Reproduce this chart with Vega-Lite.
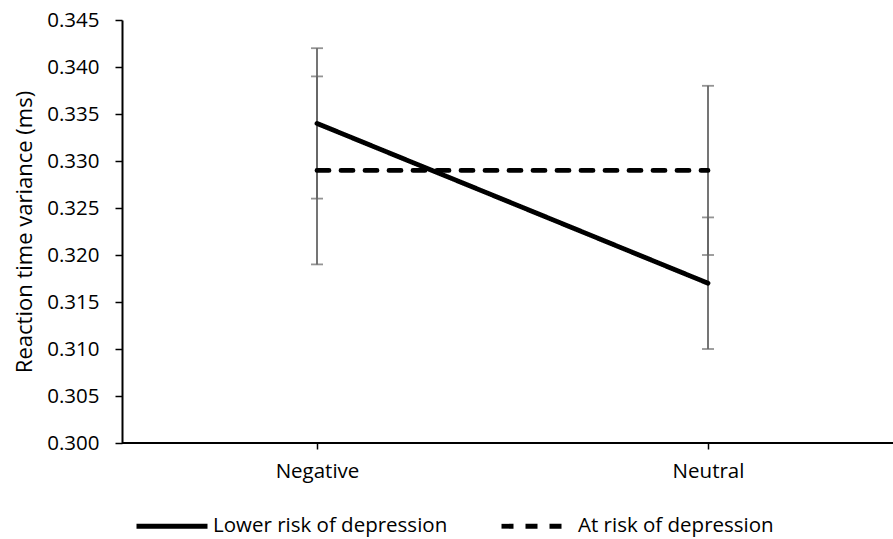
{
  "$schema": "https://vega.github.io/schema/vega-lite/v6.json",
  "width": 771,
  "height": 423,
  "autosize": {"type": "none"},
  "padding": {"left": 122, "top": 20, "right": 0, "bottom": 96},
  "background": "white",
  "config": {
    "view": {"stroke": null},
    "font": "Open Sans"
  },
  "data": {
    "values": [
      {"condition": "Negative", "group": "Lower risk of depression", "mean": 0.334, "lo": 0.326, "hi": 0.342},
      {"condition": "Negative", "group": "At risk of depression", "mean": 0.329, "lo": 0.319, "hi": 0.339},
      {"condition": "Neutral", "group": "Lower risk of depression", "mean": 0.317, "lo": 0.310, "hi": 0.324},
      {"condition": "Neutral", "group": "At risk of depression", "mean": 0.329, "lo": 0.320, "hi": 0.338}
    ]
  },
  "layer": [
    {
      "mark": {"type": "rule", "color": "black", "strokeWidth": 2},
      "encoding": {
        "y": {
          "datum": 0.3,
          "type": "quantitative",
          "scale": {"domain": [0.3, 0.345], "nice": false, "zero": false},
          "axis": {
            "values": [0.3, 0.305, 0.31, 0.315, 0.32, 0.325, 0.33, 0.335, 0.34, 0.345],
            "format": ".3f",
            "grid": false,
            "domainColor": "black", "domainWidth": 2,
            "tickColor": "black", "tickWidth": 1.5, "tickSize": 7,
            "labelFontSize": 20.5, "labelColor": "black", "labelPadding": 16,
            "title": "Reaction time variance (ms)",
            "titleFontSize": 22, "titleFontWeight": "normal", "titleColor": "black", "titlePadding": 10
          }
        }
      }
    },
    {
      "mark": {"type": "errorbar", "color": "#666666", "thickness": 1.8, "ticks": {"size": 12, "color": "#666666", "thickness": 1.8}},
      "encoding": {
        "x": {
          "field": "condition", "type": "nominal",
          "scale": {"type": "point", "range": [195, 586], "padding": 0},
          "axis": {"domain": false, "tickColor": "black", "tickWidth": 1.5, "tickSize": 6, "labelAngle": 0, "labelFontSize": 20.5, "labelColor": "black", "labelPadding": 12, "title": null}
        },
        "y": {
          "field": "lo", "type": "quantitative",
          "scale": {"domain": [0.3, 0.345], "nice": false, "zero": false},
          "axis": {
            "values": [0.3, 0.305, 0.31, 0.315, 0.32, 0.325, 0.33, 0.335, 0.34, 0.345],
            "format": ".3f",
            "grid": false,
            "domainColor": "black", "domainWidth": 2,
            "tickColor": "black", "tickWidth": 1.5, "tickSize": 7,
            "labelFontSize": 20.5, "labelColor": "black", "labelPadding": 16,
            "title": "Reaction time variance (ms)",
            "titleFontSize": 22, "titleFontWeight": "normal", "titleColor": "black", "titlePadding": 10
          }
        },
        "y2": {"field": "hi"},
        "detail": {"field": "group"}
      }
    },
    {
      "mark": {"type": "line", "color": "black", "strokeWidth": 4.8, "strokeCap": "round"},
      "encoding": {
        "x": {
          "field": "condition", "type": "nominal",
          "scale": {"type": "point", "range": [195, 586], "padding": 0},
          "axis": {"domain": false, "tickColor": "black", "tickWidth": 1.5, "tickSize": 6, "labelAngle": 0, "labelFontSize": 20.5, "labelColor": "black", "labelPadding": 12, "title": null}
        },
        "y": {
          "field": "mean", "type": "quantitative",
          "scale": {"domain": [0.3, 0.345], "nice": false, "zero": false},
          "axis": {
            "values": [0.3, 0.305, 0.31, 0.315, 0.32, 0.325, 0.33, 0.335, 0.34, 0.345],
            "format": ".3f",
            "grid": false,
            "domainColor": "black", "domainWidth": 2,
            "tickColor": "black", "tickWidth": 1.5, "tickSize": 7,
            "labelFontSize": 20.5, "labelColor": "black", "labelPadding": 16,
            "title": "Reaction time variance (ms)",
            "titleFontSize": 22, "titleFontWeight": "normal", "titleColor": "black", "titlePadding": 10
          }
        },
        "strokeDash": {
          "field": "group", "type": "nominal",
          "scale": {"domain": ["Lower risk of depression", "At risk of depression"], "range": [[1, 0], [12, 12]]},
          "legend": {
            "orient": "none", "legendX": 12, "legendY": 468,
            "direction": "horizontal", "columns": 2, "title": null,
            "symbolType": "stroke", "symbolSize": 5041, "symbolStrokeWidth": 4.8, "symbolStrokeColor": "black",
            "labelFontSize": 20.5, "labelColor": "black", "labelOffset": 3, "labelLimit": 0, "columnPadding": 43,
            "encoding": {"symbols": {"update": {"strokeCap": {"value": "round"}}}}
          }
        }
      }
    }
  ]
}
